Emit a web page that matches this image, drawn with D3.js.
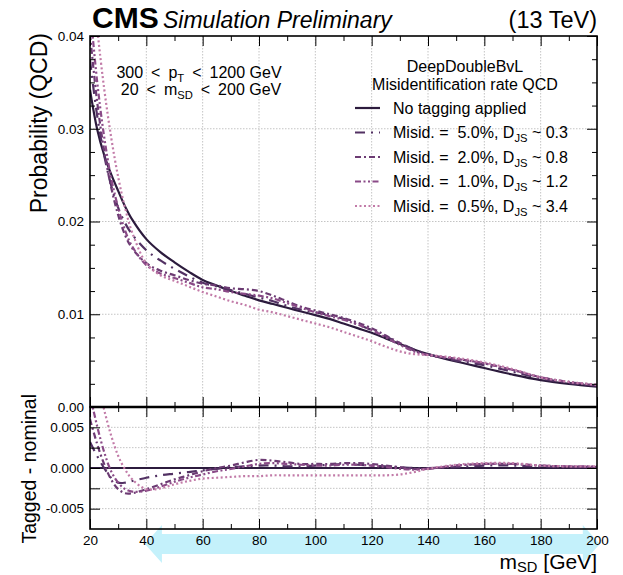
<!DOCTYPE html>
<html>
<head>
<meta charset="utf-8">
<script src="https://cdn.jsdelivr.net/npm/d3@7"></script>
<style>
  html, body { margin: 0; padding: 0; background: #fff; }
  text { font-family: "Liberation Sans", Arial, Helvetica, sans-serif; fill: #000; }
</style>
</head>
<body>
<svg id="chart" width="623" height="575"></svg>
<script>
// Soft-drop mass bins (GeV)
const massGeV = [20, 22.5, 25, 27.5, 30, 32.5, 35, 40, 45, 50, 55, 60, 65, 70, 75, 80, 85, 90, 95,
                 100, 105, 110, 115, 120, 125, 130, 135, 140, 150, 160, 170, 180, 190, 200];

// Normalised QCD mass distribution without tagging
const noTagging = [0.0342, 0.0300, 0.0272, 0.0251, 0.0233, 0.0216, 0.0202, 0.0181, 0.0167, 0.0156,
                   0.0146, 0.0137, 0.0131, 0.0125, 0.0120, 0.0115, 0.0111, 0.0107, 0.0103, 0.0099,
                   0.0095, 0.0090, 0.0085, 0.0080, 0.0074, 0.0068, 0.0062, 0.0057, 0.0049, 0.0042,
                   0.0035, 0.0029, 0.0025, 0.0022];

// Distributions after DeepDoubleBvL selections at fixed misidentification rates
const misid5p0 = [0.0374, 0.0315, 0.0272, 0.0239, 0.0215, 0.0198, 0.0186, 0.0169, 0.0158, 0.0149,
                  0.0141, 0.0134, 0.0130, 0.0126, 0.0122, 0.0118, 0.0114, 0.0109, 0.0105, 0.0102,
                  0.0099, 0.0095, 0.0089, 0.0083, 0.0076, 0.0069, 0.0062, 0.0057, 0.0050, 0.0045,
                  0.0038, 0.0031, 0.0026, 0.0023];
const misid2p0 = [0.0402, 0.0330, 0.0277, 0.0237, 0.0207, 0.0185, 0.0171, 0.0155, 0.0147, 0.0142,
                  0.0137, 0.0133, 0.0131, 0.0128, 0.0127, 0.0125, 0.0120, 0.0114, 0.0108, 0.0104,
                  0.0100, 0.0096, 0.0091, 0.0085, 0.0077, 0.0069, 0.0061, 0.0056, 0.0052, 0.0047,
                  0.0040, 0.0032, 0.0027, 0.0023];
const misid1p0 = [0.0432, 0.0352, 0.0292, 0.0247, 0.0215, 0.0190, 0.0173, 0.0153, 0.0144, 0.0139,
                  0.0134, 0.0129, 0.0127, 0.0124, 0.0122, 0.0120, 0.0117, 0.0112, 0.0107, 0.0102,
                  0.0098, 0.0094, 0.0089, 0.0083, 0.0075, 0.0067, 0.0060, 0.0056, 0.0052, 0.0047,
                  0.0040, 0.0032, 0.0027, 0.0024];
const misid0p5 = [0.0492, 0.0410, 0.0344, 0.0291, 0.0248, 0.0214, 0.0188, 0.0155, 0.0142, 0.0136,
                  0.0130, 0.0124, 0.0119, 0.0114, 0.0110, 0.0105, 0.0102, 0.0098, 0.0094, 0.0090,
                  0.0086, 0.0081, 0.0076, 0.0071, 0.0065, 0.0060, 0.0057, 0.0056, 0.0053, 0.0048,
                  0.0041, 0.0032, 0.0027, 0.0024];

const misidRates = ["5.0%", "2.0%", "1.0%", "0.5%"];
const djsValues  = ["0.3", "0.8", "1.2", "3.4"];

// Axis ticks
const xMajorTicks = [20, 40, 60, 80, 100, 120, 140, 160, 180, 200];
const xMinorTicks = [30, 50, 70, 90, 110, 130, 150, 170, 190];
const yTopMajorTicks = [0, 0.01, 0.02, 0.03, 0.04];
const yTopMinorTicks = [0.0025, 0.005, 0.0075, 0.0125, 0.015, 0.0175, 0.0225, 0.025, 0.0275, 0.0325, 0.035, 0.0375];
const yBotTicks = [-0.005, -0.0025, 0, 0.0025, 0.005];
const yBotLabelTicks = [-0.005, 0, 0.005];

// Mass window marker (GeV)
const arrowSpan = [39.5, 201];

const FONT = '"Liberation Sans", Arial, Helvetica, sans-serif';
const svg = d3.select("#chart");

const L = 90, R = 597, T0 = 36, T1 = 407, B0 = 407, B1 = 529;

const x = d3.scaleLinear().domain([20, 200]).range([L, R]);
const yTop = d3.scaleLinear().domain([0, 0.04]).range([T1, T0]);
const yBot = d3.scaleLinear().domain([-0.0075, 0.0075]).range([B1, B0]);

const series = [
  { label: "No tagging applied", values: noTagging, color: "#2c1b3d", dash: null },
  { rate: misidRates[0], djs: djsValues[0], values: misid5p0, color: "#523163", dash: "10,6,2,6" },
  { rate: misidRates[1], djs: djsValues[1], values: misid2p0, color: "#6c3b73", dash: "6,3,2,3" },
  { rate: misidRates[2], djs: djsValues[2], values: misid1p0, color: "#8a4a87", dash: "6,2.5,2,2.5,2,2.5" },
  { rate: misidRates[3], djs: djsValues[3], values: misid0p5, color: "#c27ba8", dash: "2,2.5" }
];

// Wide marker arrow under the mass axis
{
  const xa = x(arrowSpan[0]), xb = x(arrowSpan[1]);
  const yc = 544, hb = 10, hh = 19, hl = 17;
  const pts = [[xa, yc], [xa + hl, yc - hh], [xa + hl, yc - hb], [xb - hl, yc - hb], [xb - hl, yc - hh],
               [xb, yc], [xb - hl, yc + hh], [xb - hl, yc + hb], [xa + hl, yc + hb], [xa + hl, yc + hh]];
  svg.append("polygon").attr("points", pts.map(p => p.join(",")).join(" "))
     .attr("fill", "#c4f1fb");
}

// Clip regions
const defs = svg.append("defs");
defs.append("clipPath").attr("id", "clipTop").append("rect")
    .attr("x", L).attr("y", T0).attr("width", R - L).attr("height", T1 - T0);
defs.append("clipPath").attr("id", "clipBot").append("rect")
    .attr("x", L).attr("y", B0).attr("width", R - L).attr("height", B1 - B0);

// Grid lines
const grid = svg.append("g").attr("stroke", "#c4c4c4").attr("stroke-width", 1).attr("stroke-dasharray", "1.5,1.5");
xMajorTicks.filter(v => v > 20 && v < 200).forEach(v => {
  grid.append("line").attr("x1", x(v)).attr("x2", x(v)).attr("y1", T0).attr("y2", T1);
  grid.append("line").attr("x1", x(v)).attr("x2", x(v)).attr("y1", B0).attr("y2", B1);
});
yTopMajorTicks.filter(v => v > 0 && v < 0.04).forEach(v => {
  grid.append("line").attr("x1", L).attr("x2", R).attr("y1", yTop(v)).attr("y2", yTop(v));
});
yBotTicks.filter(v => v !== 0).forEach(v => {
  grid.append("line").attr("x1", L).attr("x2", R).attr("y1", yBot(v)).attr("y2", yBot(v));
});

// Curves
const smooth = d3.curveCatmullRom.alpha(0.5);
const lineTop = d3.line().x((d, i) => x(massGeV[i])).y(d => yTop(d)).curve(smooth);
const lineBot = d3.line().x((d, i) => x(massGeV[i])).y(d => yBot(d)).curve(smooth);

const gTop = svg.append("g").attr("clip-path", "url(#clipTop)");
const gBot = svg.append("g").attr("clip-path", "url(#clipBot)");
series.forEach(s => {
  gTop.append("path").attr("d", lineTop(s.values)).attr("fill", "none")
      .attr("stroke", s.color).attr("stroke-width", 2.2)
      .attr("stroke-dasharray", s.dash);
  const diff = s.values.map((v, i) => v - noTagging[i]);
  gBot.append("path").attr("d", lineBot(diff)).attr("fill", "none")
      .attr("stroke", s.color).attr("stroke-width", 2.2)
      .attr("stroke-dasharray", s.dash);
});

// Axes with inward ticks
function drawAxis(gen, transform, values, size, fmt, pad) {
  gen.tickValues(values).tickSize(size).tickPadding(pad == null ? 6 : pad)
     .tickFormat(fmt || (() => ""));
  const g = svg.append("g").attr("transform", transform).call(gen);
  g.attr("font-family", FONT).attr("font-size", 13.5);
  g.select(".domain").remove();
  g.selectAll("line").attr("stroke", "#000").attr("stroke-width", 1);
  g.selectAll("text").attr("fill", "#000");
  return g;
}
const fmt2 = d => d.toFixed(2);
const fmt3 = d => (yBotLabelTicks.includes(d) ? d.toFixed(3) : "");

// top panel
drawAxis(d3.axisLeft(yTop), `translate(${L},0)`, yTopMajorTicks, -10, fmt2, 6);
drawAxis(d3.axisLeft(yTop), `translate(${L},0)`, yTopMinorTicks, -5);
drawAxis(d3.axisRight(yTop), `translate(${R},0)`, yTopMajorTicks, -10);
drawAxis(d3.axisRight(yTop), `translate(${R},0)`, yTopMinorTicks, -5);
drawAxis(d3.axisTop(x), `translate(0,${T0})`, xMajorTicks, -10);
drawAxis(d3.axisTop(x), `translate(0,${T0})`, xMinorTicks, -5);
drawAxis(d3.axisBottom(x), `translate(0,${T1})`, xMajorTicks, -10);
drawAxis(d3.axisBottom(x), `translate(0,${T1})`, xMinorTicks, -5);
// lower panel
drawAxis(d3.axisTop(x), `translate(0,${B0})`, xMajorTicks, -10);
drawAxis(d3.axisTop(x), `translate(0,${B0})`, xMinorTicks, -5);
drawAxis(d3.axisBottom(x), `translate(0,${B1})`, xMajorTicks, -10, d => String(d), 6);
drawAxis(d3.axisBottom(x), `translate(0,${B1})`, xMinorTicks, -5);
drawAxis(d3.axisLeft(yBot), `translate(${L},0)`, yBotTicks, -10, fmt3, 6);
drawAxis(d3.axisRight(yBot), `translate(${R},0)`, yBotTicks, -10);

// Frames
svg.append("rect").attr("x", L).attr("y", T0).attr("width", R - L).attr("height", T1 - T0)
   .attr("fill", "none").attr("stroke", "#000").attr("stroke-width", 1.6);
svg.append("rect").attr("x", L).attr("y", B0).attr("width", R - L).attr("height", B1 - B0)
   .attr("fill", "none").attr("stroke", "#000").attr("stroke-width", 1.6);
svg.append("line").attr("x1", L).attr("x2", R).attr("y1", T1).attr("y2", T1)
   .attr("stroke", "#000").attr("stroke-width", 2.4);

// Rich text helper: parts of [string, isSubscript]
function rich(sel, parts, fs, shift) {
  const s = shift == null ? 0.25 : shift;
  parts.forEach(([t, sub], i) => {
    const ts = sel.append("tspan").text(t);
    if (sub) ts.attr("font-size", fs * 0.7).attr("dy", fs * s);
    else if (i > 0 && parts[i - 1][1]) ts.attr("dy", -fs * s);
  });
  return sel;
}

// Header
svg.append("text").attr("x", 92).attr("y", 28).attr("font-size", 30).attr("font-weight", "bold").text("CMS");
svg.append("text").attr("x", 163).attr("y", 28).attr("font-size", 23).attr("font-style", "italic").text("Simulation Preliminary");
svg.append("text").attr("x", R).attr("y", 28).attr("font-size", 23.5).attr("text-anchor", "end").text("(13 TeV)");

// Axis titles
svg.append("text").attr("transform", `translate(47,33) rotate(-90)`).attr("text-anchor", "end")
   .attr("font-size", 23).text("Probability (QCD)");
svg.append("text").attr("transform", `translate(36,394) rotate(-90)`).attr("text-anchor", "end")
   .attr("font-size", 19.5).text("Tagged - nominal");
rich(svg.append("text").attr("x", R).attr("y", 569).attr("font-size", 21).attr("text-anchor", "end"),
     [["m", false], ["SD", true], [" [GeV]", false]], 21, 0.12);

// Selection annotation
const sp = "\u2002";
rich(svg.append("text").attr("x", 199).attr("y", 78).attr("font-size", 16).attr("text-anchor", "middle"),
     [[`300${sp}<${sp}p`, false], ["T", true], [`${sp}<${sp}1200 GeV`, false]], 16);
rich(svg.append("text").attr("x", 201).attr("y", 95).attr("font-size", 16).attr("text-anchor", "middle"),
     [[`20${sp}<${sp}m`, false], ["SD", true], [`${sp}<${sp}200 GeV`, false]], 16);

// Legend
svg.append("text").attr("x", 465).attr("y", 72).attr("font-size", 16).attr("text-anchor", "middle").text("DeepDoubleBvL");
svg.append("text").attr("x", 465).attr("y", 90).attr("font-size", 16).attr("text-anchor", "middle").text("Misidentification rate QCD");
const rowY = [108, 132.5, 157, 181.5, 206];
series.forEach((s, i) => {
  const y = rowY[i];
  svg.append("line").attr("x1", 355).attr("x2", 380).attr("y1", y).attr("y2", y)
     .attr("stroke", s.color).attr("stroke-width", 2.2).attr("stroke-dasharray", s.dash);
  const t = svg.append("text").attr("x", 393).attr("y", y + 5.5).attr("font-size", 16)
     .style("white-space", "pre");
  if (s.label) t.text(s.label);
  else rich(t, [[`Misid. =  ${s.rate}, D`, false], ["JS", true], [` ~ ${s.djs}`, false]], 16);
});
</script>
</body>
</html>
